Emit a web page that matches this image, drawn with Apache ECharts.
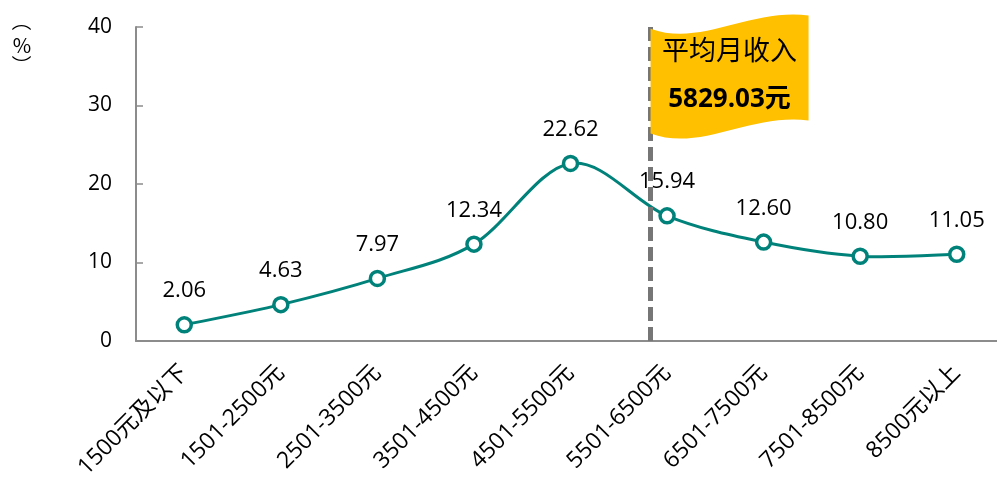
<!DOCTYPE html>
<html>
<head>
<meta charset="utf-8">
<script src="https://cdn.jsdelivr.net/npm/echarts@6/dist/echarts.min.js"></script>
<style>
  html, body { margin: 0; padding: 0; background: #fff; overflow: hidden; }
  #main { width: 1006px; height: 490px; }
</style>
</head>
<body>
<div id="main"></div>
<script>
// 收入分组
var categories = ['1500元及以下', '1501-2500元', '2501-3500元', '3501-4500元', '4501-5500元',
    '5501-6500元', '6501-7500元', '7501-8500元', '8500元以上'];
// 占比 (%)
var shares = [2.06, 4.63, 7.97, 12.34, 22.62, 15.94, 12.60, 10.80, 11.05];
// 平均月收入
var avgIncome = 5829.03;
var avgGroupIndex = 5;      // 5501-6500元
var avgGroupStart = 5500;
var groupWidth = 1000;
var yTicks = { min: 0, max: 40, interval: 10 };

var avgPos = avgGroupIndex + (avgIncome - avgGroupStart) / groupWidth;

var teal = '#00827a';
var numFont = "'Open Sans', 'Noto Sans CJK SC', sans-serif";

var myChart = echarts.init(document.getElementById('main'));

// Excel 风格的平滑曲线 (cardinal spline)
function renderCurve(params, api) {
    var i = params.dataIndex;
    if (i >= shares.length - 1) return null;
    var pt = function (k) {
        k = Math.max(0, Math.min(shares.length - 1, k));
        return api.coord([k, shares[k]]);
    };
    var p0 = pt(i - 1), p1 = pt(i), p2 = pt(i + 1), p3 = pt(i + 2);
    return {
        type: 'bezierCurve',
        shape: {
            x1: p1[0], y1: p1[1],
            x2: p2[0], y2: p2[1],
            cpx1: p1[0] + (p2[0] - p0[0]) / 6,
            cpy1: p1[1] + (p2[1] - p0[1]) / 6,
            cpx2: p2[0] - (p3[0] - p1[0]) / 6,
            cpy2: p2[1] - (p3[1] - p1[1]) / 6
        },
        style: { stroke: teal, lineWidth: 3, fill: null }
    };
}

function vText(ch, rot, top) {
    return {
        type: 'text',
        x: 22,
        y: top,
        rotation: rot,
        style: {
            text: ch,
            font: "20px 'Noto Sans CJK SC'",
            fill: '#000',
            align: 'center',
            verticalAlign: 'middle'
        }
    };
}

myChart.setOption({
    animation: false,
    backgroundColor: '#fff',
    grid: { left: 136, right: 1, top: 27, bottom: 149 },
    graphic: [
        vText('（', -Math.PI / 2, 21),
        vText('%', 0, 45),
        vText('）', -Math.PI / 2, 65)
    ],
    xAxis: [{
        type: 'category',
        data: categories,
        boundaryGap: true,
        axisLine: { lineStyle: { color: '#8c8c8c', width: 2 } },
        axisTick: { inside: true, length: 7, lineStyle: { color: '#8c8c8c', width: 1.5 } },
        axisLabel: {
            rotate: 45,
            interval: 0,
            margin: 28,
            color: '#000',
            fontSize: 23,
            fontFamily: numFont
        }
    }, {
        type: 'value',
        show: false,
        min: 0,
        max: categories.length
    }],
    yAxis: {
        type: 'value',
        min: yTicks.min,
        max: yTicks.max,
        interval: yTicks.interval,
        splitLine: { show: false },
        axisLine: { show: true, lineStyle: { color: '#8c8c8c', width: 2 } },
        axisTick: { show: true, inside: true, length: 7, lineStyle: { color: '#8c8c8c', width: 1.5 } },
        axisLabel: {
            margin: 24,
            color: '#000',
            fontSize: 21,
            fontFamily: numFont
        }
    },
    series: [{
        // 旗帜
        type: 'line',
        xAxisIndex: 1,
        data: [],
        z: 1,
        markPoint: {
            silent: true,
            symbol: 'path://M0,14 C50,34 100,-8 158,0 L158,112 C100,104 50,146 0,126 Z',
            symbolSize: [158, 124],
            symbolKeepAspect: false,
            symbolOffset: ['50%', '40%'],
            itemStyle: { color: '#ffc000' },
            label: {
                show: true,
                position: 'inside',
                offset: [0, -2],
                formatter: '{a|平均月收入}\n{b|' + avgIncome.toFixed(2) + '元}',
                rich: {
                    a: { fontSize: 27, fontFamily: "'Noto Sans CJK SC'", color: '#000', lineHeight: 50 },
                    b: { fontSize: 26, fontWeight: 'bold', fontFamily: numFont, color: '#000', lineHeight: 50 }
                }
            },
            data: [{ coord: [avgPos, yTicks.max] }]
        }
    }, {
        // 平均线
        type: 'line',
        xAxisIndex: 1,
        data: [],
        z: 2,
        markLine: {
            silent: true,
            symbol: 'none',
            label: { show: false },
            lineStyle: { color: '#767676', width: 5, type: [14, 6] },
            data: [{ xAxis: avgPos }]
        }
    }, {
        type: 'custom',
        z: 3,
        silent: true,
        renderItem: renderCurve,
        data: shares
    }, {
        type: 'line',
        data: shares,
        z: 4,
        symbol: 'circle',
        symbolSize: 14,
        lineStyle: { width: 0, opacity: 0 },
        itemStyle: { color: '#fff', borderColor: teal, borderWidth: 3.5 },
        label: {
            show: true,
            position: 'top',
            distance: 14,
            color: '#000',
            fontSize: 22,
            fontFamily: numFont,
            formatter: function (p) { return p.value.toFixed(2); }
        }
    }]
});
</script>
</body>
</html>
